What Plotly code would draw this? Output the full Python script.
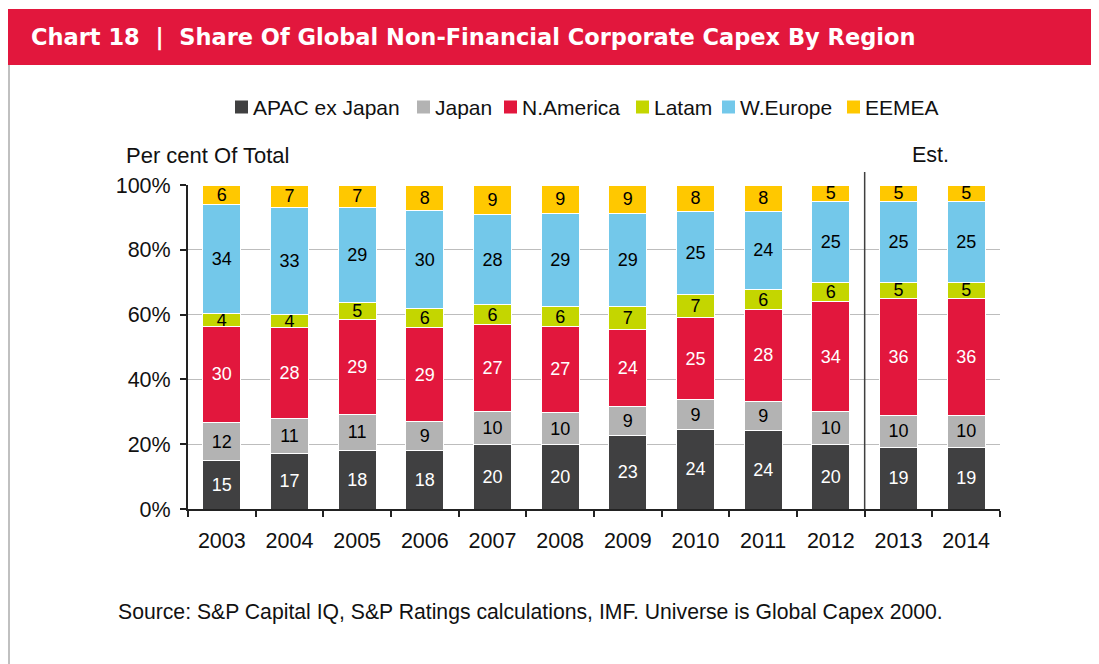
import plotly.graph_objects as go

years = ["2003", "2004", "2005", "2006", "2007", "2008", "2009", "2010", "2011", "2012", "2013", "2014"]
apac = [15, 17, 18, 18, 20, 20, 23, 24, 24, 20, 19, 19]
japan = [12, 11, 11, 9, 10, 10, 9, 9, 9, 10, 10, 10]
namerica = [30, 28, 29, 29, 27, 27, 24, 25, 28, 34, 36, 36]
latam = [4, 4, 5, 6, 6, 6, 7, 7, 6, 6, 5, 5]
weurope = [34, 33, 29, 30, 28, 29, 29, 25, 24, 25, 25, 25]
eemea = [6, 7, 7, 8, 9, 9, 9, 8, 8, 5, 5, 5]

series_names = ["APAC ex Japan", "Japan", "N.America", "Latam", "W.Europe", "EEMEA"]
series_values = [apac, japan, namerica, latam, weurope, eemea]
series_colors = ["#404041", "#b3b3b3", "#e2173d", "#c4d600", "#73c8ea", "#ffc800"]
label_colors = ["white", "black", "white", "black", "black", "black"]

FONT = "Liberation Sans, Arial, sans-serif"

fig = go.Figure()
for name, vals, color, tcolor in zip(series_names, series_values, series_colors, label_colors):
    fig.add_trace(go.Bar(
        x=years, y=vals, name=name, text=vals, texttemplate="%{text}",
        textposition="inside", insidetextanchor="middle", textangle=0,
        textfont=dict(color=tcolor, size=18, family=FONT),
        marker=dict(color=color, line=dict(color="white", width=1)),
        showlegend=False,
    ))

# page offset (body margin) and plot area in page pixels
OFF = 8
PW, PH = 1099, 664
L, R, T, B = 188, 1000, 185, 509
def px(x):
    return (x - L) / (R - L)
def py(y):
    return (B - y) / (B - T)

shapes = [
    dict(type="rect", xref="paper", yref="paper", x0=px(OFF), x1=px(PW + 2), y0=py(65), y1=py(9),
         fillcolor="#e2173d", line=dict(width=0), layer="below"),
    dict(type="line", xref="paper", yref="paper", x0=px(OFF + 1), x1=px(OFF + 1), y0=py(65), y1=py(PH + 2),
         line=dict(color="#c0c0c0", width=2)),
    dict(type="line", xref="paper", yref="paper", x0=10 / 12, x1=10 / 12, y0=0, y1=py(172),
         line=dict(color="#404040", width=1.5)),
]

annotations = [
    dict(text="<b>Chart 18  |  Share Of Global Non-Financial Corporate Capex By Region</b>",
         xref="paper", yref="paper", x=px(29), y=py(37), xanchor="left", yanchor="middle",
         showarrow=False, font=dict(color="white", size=22.5, family="DejaVu Sans, sans-serif")),
    dict(text="Per cent Of Total", xref="paper", yref="paper", x=px(124), y=py(155),
         xanchor="left", yanchor="middle", showarrow=False,
         font=dict(color="#111", size=22, family=FONT)),
    dict(text="Est.", xref="paper", yref="paper", x=px(930), y=py(155),
         xanchor="center", yanchor="middle", showarrow=False,
         font=dict(color="#111", size=21.5, family=FONT)),
    dict(text="Source: S&P Capital IQ, S&P Ratings calculations, IMF. Universe is Global Capex 2000.",
         xref="paper", yref="paper", x=px(116), y=py(612), xanchor="left", yanchor="middle",
         showarrow=False, font=dict(color="#111", size=21.2, family=FONT)),
]

# legend: squares + labels (page-pixel left edges of squares)
legend_square_x = [235, 417, 504, 636, 722, 847]
LEG_Y = 107
SQ = 13
for name, color, sx in zip(series_names, series_colors, legend_square_x):
    shapes.append(dict(type="rect", xref="paper", yref="paper",
                       x0=px(sx), x1=px(sx + SQ), y0=py(LEG_Y + SQ / 2), y1=py(LEG_Y - SQ / 2),
                       fillcolor=color, line=dict(width=0)))
    annotations.append(dict(text=name, xref="paper", yref="paper", x=px(sx + SQ + 3), y=py(LEG_Y),
                            xanchor="left", yanchor="middle", showarrow=False,
                            font=dict(color="#111", size=21, family=FONT)))

fig.update_layout(
    barmode="stack", barnorm="percent", bargap=0.44,
    width=PW - OFF, height=PH - OFF,
    margin=dict(l=L - OFF, r=PW - R, t=T - OFF, b=PH - B, autoexpand=False),
    paper_bgcolor="white", plot_bgcolor="white",
    font=dict(family=FONT, color="#111"),
    uniformtext=dict(minsize=18, mode="show"),
    showlegend=False,
    shapes=shapes, annotations=annotations,
)
fig.update_xaxes(type="category", showline=True, linecolor="#222", linewidth=2,
                 ticks="outside", tickson="boundaries", ticklen=6, tickcolor="#222", tickwidth=2,
                 ticklabelstandoff=11,
                 tickfont=dict(size=21.5, family=FONT, color="#111"), showgrid=False)
fig.update_yaxes(range=[0, 100], dtick=20, ticksuffix="%", showline=True, linecolor="#222",
                 linewidth=2, ticks="outside", ticklen=6, tickcolor="#222", tickwidth=2,
                 ticklabelstandoff=5,
                 showgrid=True, gridcolor="#bdbdbd", gridwidth=1,
                 tickfont=dict(size=21.5, family=FONT, color="#111"), zeroline=False)

fig.write_html("out.html")
